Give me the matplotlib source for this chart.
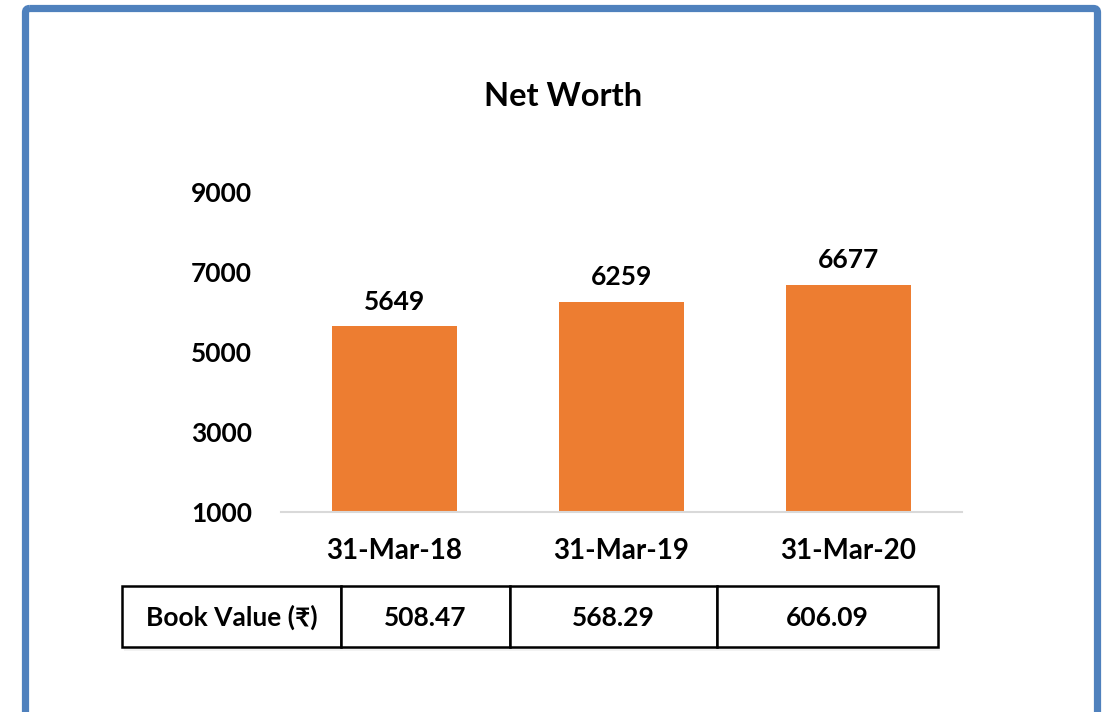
import matplotlib
matplotlib.use("Agg")
import matplotlib.pyplot as plt
from matplotlib.patches import Rectangle, FancyBboxPatch

# ---- data ----
categories = ["31-Mar-18", "31-Mar-19", "31-Mar-20"]
net_worth = [5649, 6259, 6677]
book_value_label = "Book Value (₹)"
book_values = ["508.47", "568.29", "606.09"]
yticks = [1000, 3000, 5000, 7000, 9000]
title = "Net Worth"

FONT = ["Lato", "DejaVu Sans"]
plt.rcParams["font.family"] = FONT
WEIGHT = "bold"

W, H = 1112, 712
fig = plt.figure(figsize=(W / 100, H / 100), dpi=100)

ov = fig.add_axes([0, 0, 1, 1])
ov.set_xlim(0, W)
ov.set_ylim(H, 0)
ov.axis("off")

frame = FancyBboxPatch((25.5, 8.5), 1072, 760, boxstyle="round,pad=0,rounding_size=4",
                       fill=False, edgecolor="#4F81BD", linewidth=5.2, zorder=1)
ov.add_patch(frame)

ax = fig.add_axes([281 / W, 1 - 512 / H, (962 - 281) / W, (512 - 192) / H])
x = list(range(len(categories)))
ax.bar(x, net_worth, width=0.555, color="#ED7D31", zorder=2)
ax.set_xlim(-0.5, len(categories) - 0.5)
ax.set_ylim(1000, 9000)
ax.set_yticks(yticks)
ax.set_yticklabels([str(v) for v in yticks], fontsize=19, fontweight=WEIGHT)
ax.set_xticks(x)
ax.set_xticklabels(categories, fontsize=20, fontweight=WEIGHT)
ax.tick_params(axis="both", length=0)
ax.tick_params(axis="y", pad=21)
ax.tick_params(axis="x", pad=19)
for s in ["top", "right", "left"]:
    ax.spines[s].set_visible(False)
ax.spines["bottom"].set_color("#D9D9D9")
ax.spines["bottom"].set_linewidth(1.5)
ax.patch.set_alpha(0)
for xi, v in zip(x, net_worth):
    ax.annotate(str(v), (xi, v), xytext=(0, 9), textcoords="offset points",
                ha="center", va="bottom", fontsize=19, fontweight=WEIGHT)

fig.text(563 / W, 1 - 97 / H, title, ha="center", va="center",
         fontsize=23.5, fontweight=WEIGHT)

col_edges = [122, 341, 510, 717, 938]
top, bot = 586, 647
ov.add_patch(Rectangle((col_edges[0] + 2, top + 4), col_edges[-1] - col_edges[0], bot - top,
                       facecolor="#F2F2F2", edgecolor="none", zorder=2))
cells = [book_value_label] + book_values
for i, txt in enumerate(cells):
    x0, x1 = col_edges[i], col_edges[i + 1]
    ov.add_patch(Rectangle((x0, top), x1 - x0, bot - top, facecolor="white",
                           edgecolor="black", linewidth=1.8, zorder=3))
    ov.text((x0 + x1) / 2, (top + bot) / 2 + 1, txt, ha="center", va="center",
            fontsize=19, fontweight=WEIGHT, zorder=4, family=FONT)

fig.savefig("out.png", dpi=100)
